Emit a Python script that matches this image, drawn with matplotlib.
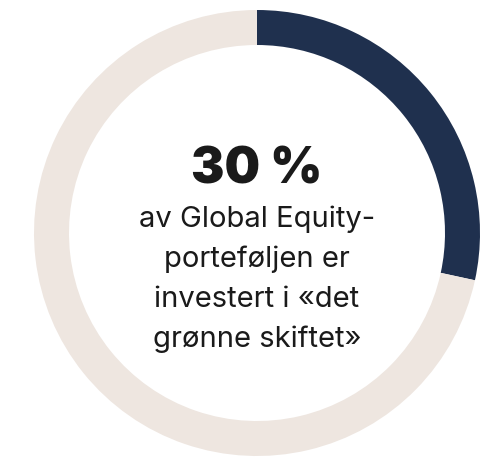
import matplotlib.pyplot as plt

# share of the ring drawn in navy, and the rest
shares = [28.4, 71.6]
colors = ["#1F304E", "#EEE6E0"]

headline = "30 %"
caption_lines = ["av Global Equity-", "porteføljen er", "investert i «det", "grønne skiftet»"]

W, H = 493, 457
fig = plt.figure(figsize=(W / 100, H / 100), dpi=100)
ax = fig.add_axes([0, 0, 1, 1])

cx, cy = 257, H - 233
ax.pie(shares, colors=colors, startangle=90, counterclock=False,
       center=(cx, cy), radius=223,
       wedgeprops=dict(width=35, linewidth=0))

ax.set_xlim(0, W)
ax.set_ylim(0, H)
ax.set_aspect("equal")
ax.axis("off")

ax.text(cx, H - 183, headline, ha="center", va="baseline",
        fontsize=36, fontweight="black", family="Inter", color="#1a1a1a")

for i, line in enumerate(caption_lines):
    ax.text(cx, H - (227 + 40 * i), line, ha="center", va="baseline",
            fontsize=21, family="Inter", color="#1a1a1a")

fig.savefig("out.png", dpi=100)
